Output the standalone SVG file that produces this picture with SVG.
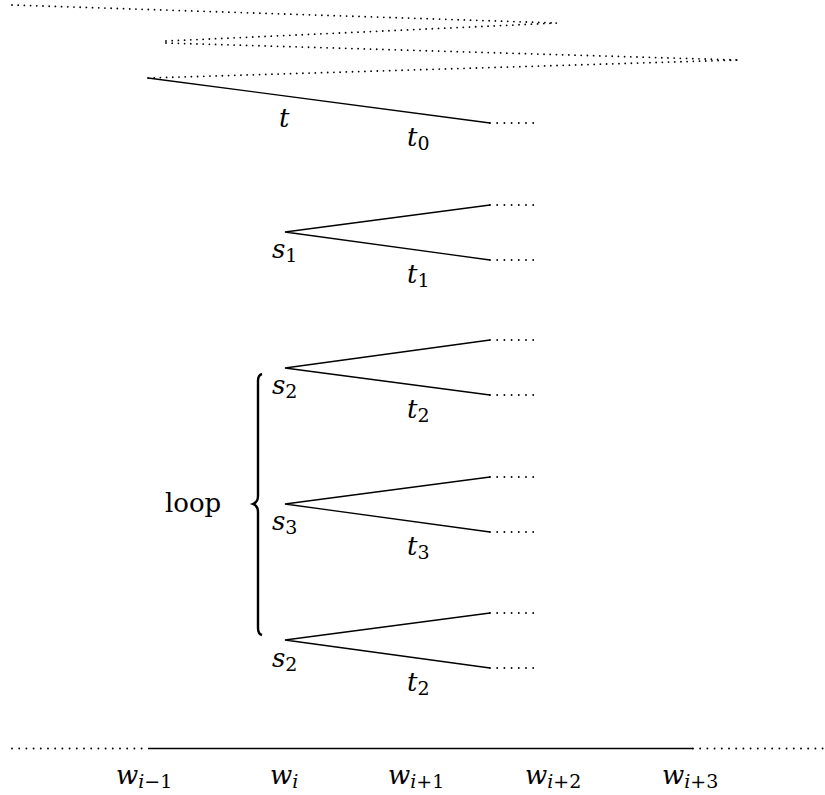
<svg xmlns="http://www.w3.org/2000/svg" width="825" height="795" viewBox="0 0 825 795">
<style>
.s{stroke:#000;stroke-width:1.3;fill:none}
.d{stroke:#000;stroke-width:1.9;fill:none;stroke-linecap:round;stroke-dasharray:0 7.2}
.dt{stroke:#000;stroke-width:1.8;fill:none;stroke-linecap:round;stroke-dasharray:0 6.2}
.m{font-family:'DejaVu Serif','Liberation Serif',serif;font-style:italic;font-size:26px;fill:#000}
.sub{font-style:normal;font-size:19px}
.subi{font-size:19px}
.r{font-family:'DejaVu Serif','Liberation Serif',serif;font-size:26px;fill:#000}
</style>
<rect width="825" height="795" fill="#fff"/>
<g id="connectors">
<line class="dt" x1="12" y1="5" x2="557" y2="23"/>
<line class="dt" x1="166" y1="41" x2="557" y2="23"/>
<line class="dt" x1="166" y1="43" x2="738" y2="60"/>
<line class="dt" x1="148" y1="78" x2="738" y2="60"/>
<line class="s" x1="148" y1="78" x2="490" y2="123"/>
<line class="d" x1="490" y1="123" x2="536" y2="123"/>
<polyline class="s" points="490,205 285,232 490,260"/>
<line class="d" x1="490" y1="205" x2="536" y2="205"/>
<line class="d" x1="490" y1="260" x2="536" y2="260"/>
<polyline class="s" points="490,340 285,368 490,395"/>
<line class="d" x1="490" y1="340" x2="536" y2="340"/>
<line class="d" x1="490" y1="395" x2="536" y2="395"/>
<polyline class="s" points="490,477 285,504 490,532"/>
<line class="d" x1="490" y1="477" x2="536" y2="477"/>
<line class="d" x1="490" y1="532" x2="536" y2="532"/>
<polyline class="s" points="490,613 285,640 490,668"/>
<line class="d" x1="490" y1="613" x2="536" y2="613"/>
<line class="d" x1="490" y1="668" x2="536" y2="668"/>
<line class="d" x1="12" y1="748.5" x2="148" y2="748.5"/>
<line class="s" x1="148" y1="748.5" x2="693" y2="748.5"/>
<line class="d" x1="693" y1="748.5" x2="825" y2="748.5"/>
</g>
<g id="brace">
<path d="M262,374 Q258,375 258,381 L258,496 Q258,502 253,504 Q258,506 258,512 L258,628 Q258,634 262,635" stroke="#000" stroke-width="2.4" fill="none"/>
<text class="r" x="165" y="512">loop</text>
</g>
<g id="tree0">
<text class="m" x="279" y="127">t</text>
<text class="m" x="407" y="146">t<tspan class="sub" dy="4">0</tspan></text>
</g>
<g id="tree1">
<text class="m" x="272" y="258">s<tspan class="sub" dy="4">1</tspan></text>
<text class="m" x="407" y="283">t<tspan class="sub" dy="4">1</tspan></text>
</g>
<g id="tree2">
<text class="m" x="272" y="394">s<tspan class="sub" dy="4">2</tspan></text>
<text class="m" x="407" y="418">t<tspan class="sub" dy="4">2</tspan></text>
</g>
<g id="tree3">
<text class="m" x="272" y="530">s<tspan class="sub" dy="4">3</tspan></text>
<text class="m" x="407" y="555">t<tspan class="sub" dy="4">3</tspan></text>
</g>
<g id="tree4">
<text class="m" x="272" y="667">s<tspan class="sub" dy="4">2</tspan></text>
<text class="m" x="407" y="691">t<tspan class="sub" dy="4">2</tspan></text>
</g>
<g id="words">
<text class="m" x="116" y="784">w<tspan class="subi" dy="4">i</tspan><tspan class="sub">−1</tspan></text>
<text class="m" x="270" y="784">w<tspan class="subi" dy="4">i</tspan></text>
<text class="m" x="388" y="784">w<tspan class="subi" dy="4">i</tspan><tspan class="sub">+1</tspan></text>
<text class="m" x="525" y="784">w<tspan class="subi" dy="4">i</tspan><tspan class="sub">+2</tspan></text>
<text class="m" x="662" y="784">w<tspan class="subi" dy="4">i</tspan><tspan class="sub">+3</tspan></text>
</g>
</svg>
